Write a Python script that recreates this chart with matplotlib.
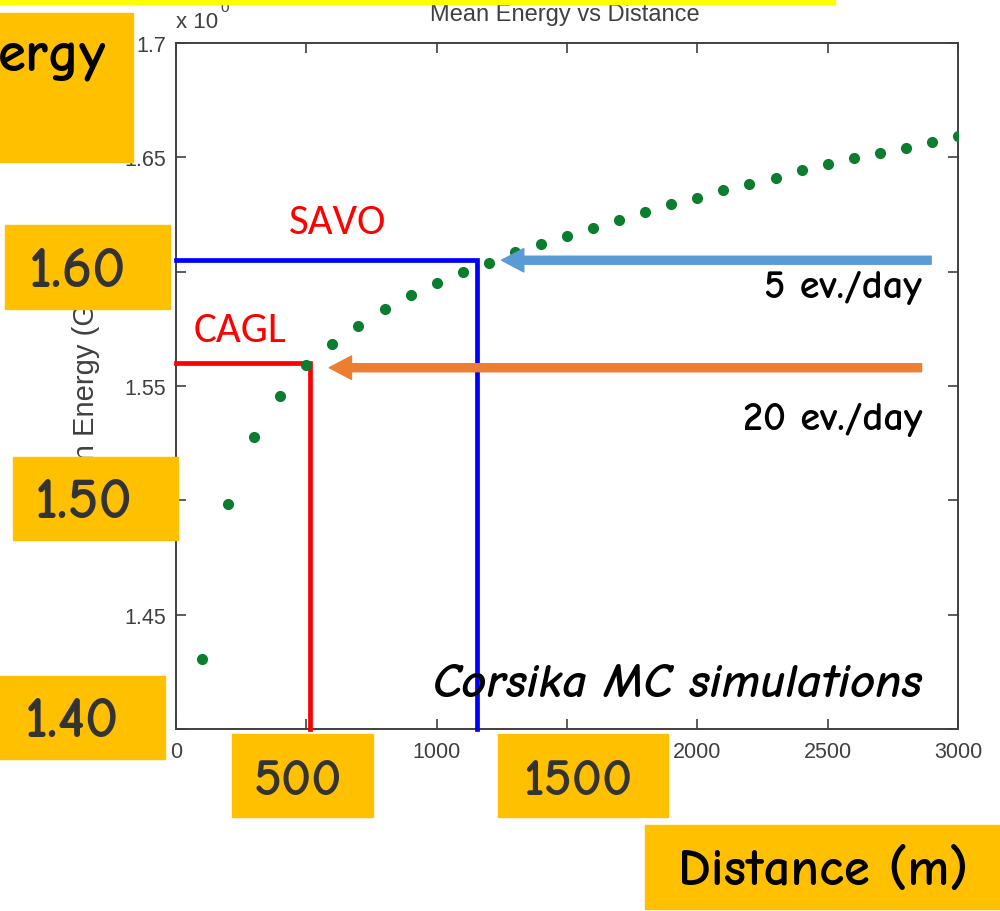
"""
Mean muon energy vs distance (Corsika MC) with the slide overlays on top.
"""

import matplotlib
matplotlib.use('Agg')
from matplotlib import pyplot as plt
from matplotlib.patches import Rectangle

# simulated points
distance = [100, 200, 300, 400, 500, 600, 700, 800, 900, 1000,
            1100, 1200, 1300, 1400, 1500, 1600, 1700, 1800, 1900, 2000,
            2100, 2200, 2300, 2400, 2500, 2600, 2700, 2800, 2900, 3000]
mean_energy = [1.4305, 1.4983, 1.5278, 1.5456, 1.5592, 1.5685, 1.5764, 1.5835, 1.5896, 1.5950,
               1.5997, 1.6038, 1.6086, 1.6122, 1.6158, 1.6193, 1.6228, 1.6262, 1.6295, 1.6324,
               1.6356, 1.6385, 1.6410, 1.6443, 1.6470, 1.6497, 1.6517, 1.6540, 1.6566, 1.6595]

# sites
site_names = ['CAGL', 'SAVO']
site_distance = [515, 1156]
site_energy = [1.560, 1.605]

# rate arrows
rate_labels = ['20 ev./day', '5 ev./day']
arrow_start = [2860, 2897]
arrow_tip = [588, 1249]
arrow_energy = [1.558, 1.605]

x_ticks = [0, 500, 1000, 1500, 2000, 2500, 3000]
y_ticks = [1.4, 1.45, 1.5, 1.55, 1.6, 1.65, 1.7]

box_labels = ['ergy', '1.60', '1.50', '1.40', '500', '1500', 'Distance (m)']

W, H = 1000, 912
MATLAB = ['Liberation Sans', 'Arimo', 'DejaVu Sans']
NARROW = ['Carlito', 'Liberation Sans Narrow', 'Archivo Narrow', 'DejaVu Sans']
COMIC = ['Comic Neue', 'Comic Relief', 'DejaVu Sans']
GREY = '#404040'


def fx(x):
    return x / W


def fy(y):
    return 1 - y / H


def main():
    fig = plt.figure(figsize=(W / 100, H / 100), dpi=100)
    ax = fig.add_axes([fx(176), fy(730), (958 - 176) / W, (730 - 44) / H])

    ax.plot(distance, mean_energy, 'o', color='#0b7d2e', ms=7, mec='#0b7d2e', zorder=4)

    ax.set_xlim(0, 3000)
    ax.set_ylim(1.4, 1.7)
    ax.set_xticks(x_ticks)
    ax.set_yticks(y_ticks)
    ax.set_xticklabels([f'{v:g}' for v in x_ticks])
    ax.set_yticklabels([f'{v:g}' for v in y_ticks])
    ax.tick_params(direction='in', length=7, width=1.2, color=GREY, labelsize=15.5,
                   labelcolor=GREY, top=True, right=True)
    ax.tick_params(axis='x', pad=9)
    ax.tick_params(axis='y', pad=7)
    for lab in ax.get_xticklabels() + ax.get_yticklabels():
        lab.set_fontfamily(MATLAB)
    for sp in ax.spines.values():
        sp.set_color(GREY)
        sp.set_linewidth(1.4)

    ax.set_ylabel('Mean Energy (GeV)', fontsize=21, color=GREY, family=MATLAB)
    ax.yaxis.set_label_coords((100 - 176) / 782, 0.5)
    fig.text(0.565, fy(21), 'Mean Energy vs Distance', ha='center', va='baseline',
             fontsize=17, color=GREY, family=MATLAB)
    fig.text(fx(176), fy(28), 'x 10', ha='left', va='baseline', fontsize=16,
             color=GREY, family=MATLAB)
    fig.text(fx(220), fy(12), '0', ha='left', va='baseline', fontsize=11,
             color=GREY, family=MATLAB)

    # site markers
    colors = ['#ff0000', '#0000ff']
    for d, e, c in zip(site_distance, site_energy, colors):
        ax.plot([0, d, d], [e, e, 1.4], color=c, lw=3.4, solid_joinstyle='miter',
                clip_on=False, zorder=3)
    ax.text(245, 1.5745, site_names[0], color='#ff0000', fontsize=31,
            ha='center', va='center', family=NARROW)
    ax.text(618, 1.622, site_names[1], color='#ff0000', fontsize=31,
            ha='center', va='center', family=NARROW)

    # arrows
    arrow_colors = ['#ed7d31', '#5b9bd5']
    for x0, x1, e, c in zip(arrow_start, arrow_tip, arrow_energy, arrow_colors):
        ax.annotate('', xy=(x1, e), xytext=(x0, e),
                    arrowprops=dict(arrowstyle='simple,head_length=1.0,head_width=1.05,tail_width=0.36',
                                    mutation_scale=16, color=c, shrinkA=0, shrinkB=0),
                    zorder=5)
    ax.text(2862, 1.5312, rate_labels[0], ha='right', va='baseline', fontsize=29,
            family=COMIC, weight='bold')
    ax.text(2862, 1.589, rate_labels[1], ha='right', va='baseline', fontsize=29,
            family=COMIC, weight='bold')
    ax.text(2862, 1.4145, 'Corsika MC simulations', ha='right', va='baseline',
            fontsize=35, style='italic', family=COMIC, weight='bold')

    # slide overlay
    fig.add_artist(Rectangle((0, fy(5)), fx(835), 5 / H, transform=fig.transFigure,
                             color='#ffff00', zorder=4))
    rects = [(0, 14, 133, 163), (5, 226, 170, 310), (13, 458, 178, 541), (0, 677, 165, 760),
             (232, 735, 373, 818), (498, 735, 668, 818), (645, 826, 1000, 910)]
    anchors = [(-2, 72, 'left'), (77, 287, 'center'), (84, 518, 'center'), (72, 737, 'center'),
               (298, 795, 'center'), (578, 795, 'center'), (823, 885, 'center')]
    sizes = [41, 42, 42, 42, 38, 38, 38]
    for lab, (x0, y0, x1, y1), (tx, ty, ha), s in zip(box_labels, rects, anchors, sizes):
        fig.add_artist(Rectangle((fx(x0), fy(y1)), (x1 - x0) / W, (y1 - y0) / H,
                                 transform=fig.transFigure, color='#ffc000', zorder=1))
        tc = 'black' if lab in ('ergy', 'Distance (m)') else '#333333'
        fig.text(fx(tx), fy(ty), lab, ha=ha, va='baseline', fontsize=s, color=tc,
                 family=COMIC, weight='bold')

    plt.savefig('out.png', dpi=100)


if __name__ == '__main__':
    main()
